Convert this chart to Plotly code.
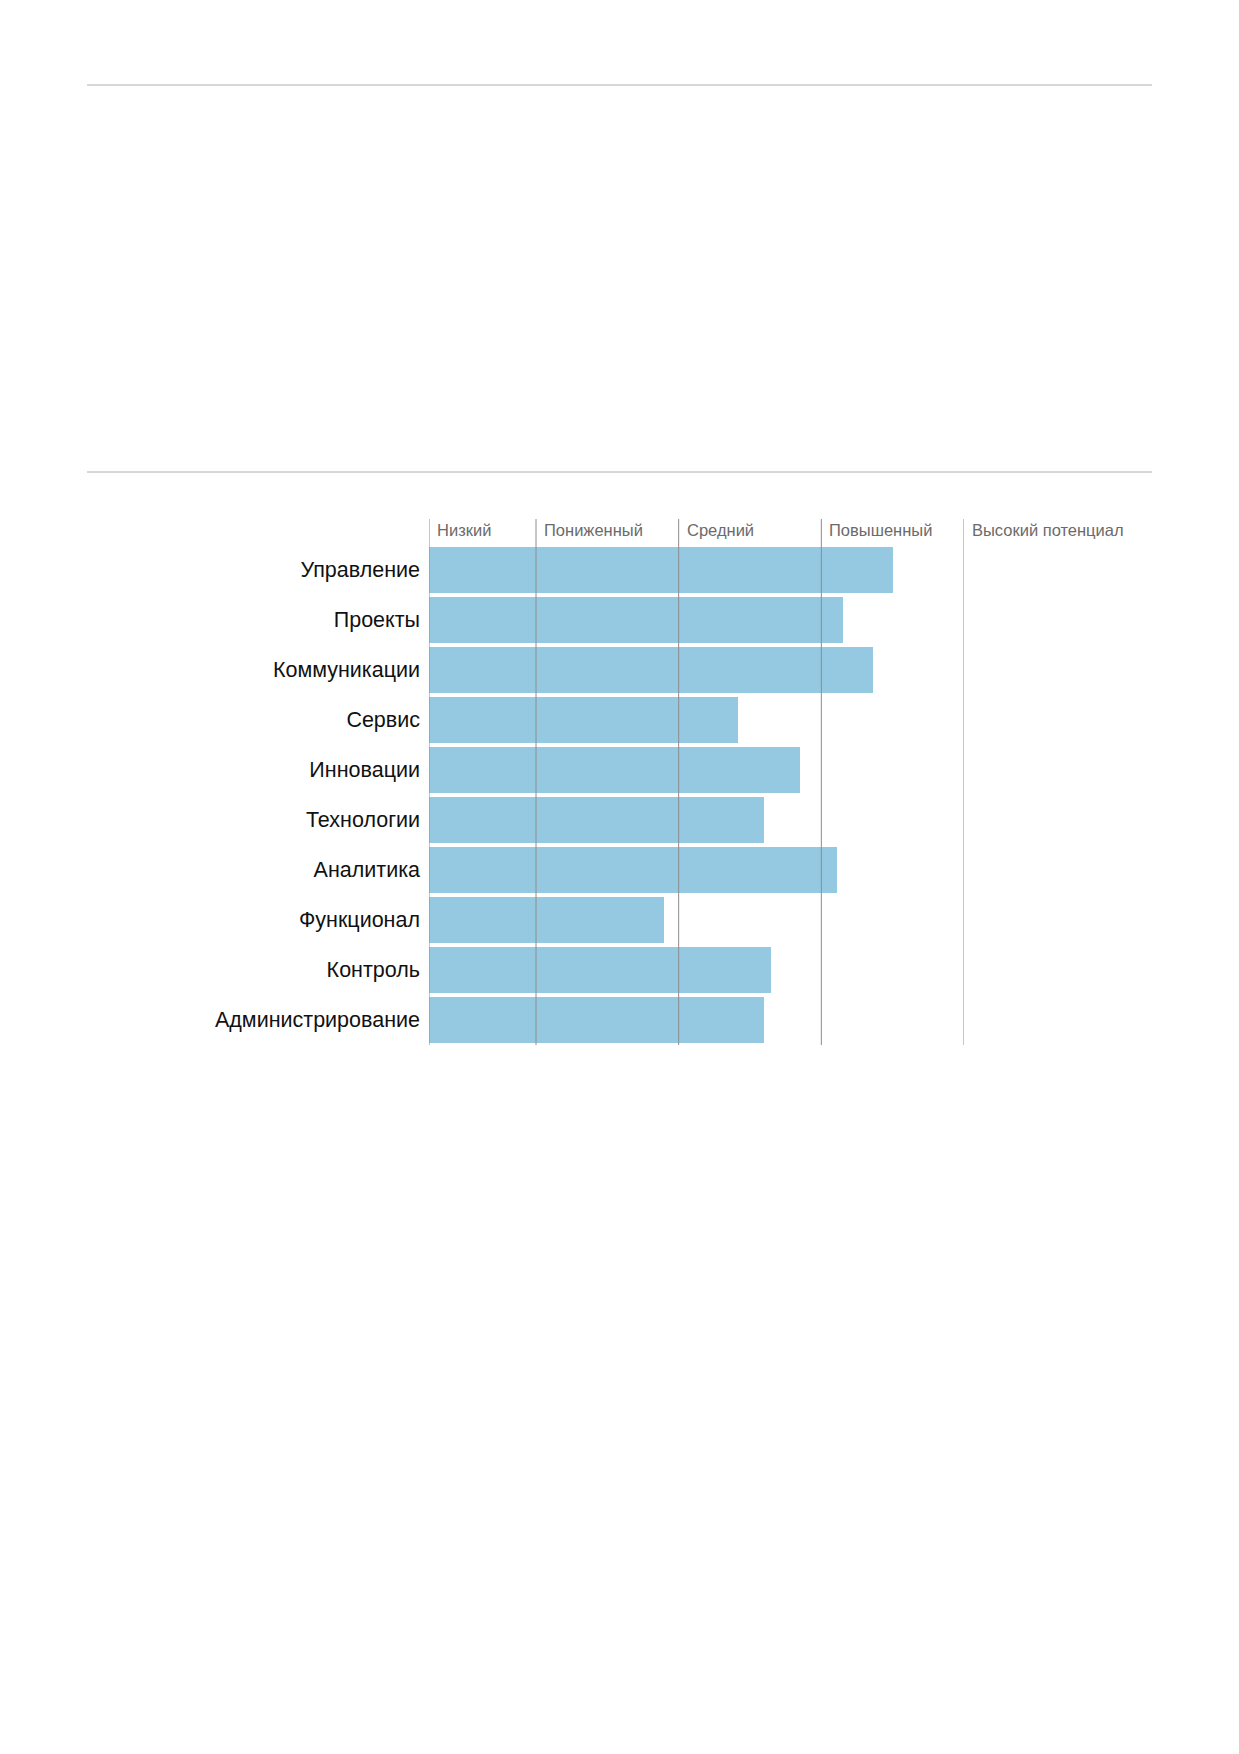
import plotly.graph_objects as go

# the page has an 8px body margin, so the figure is placed 8px in from the corner
PAD = 8
W, H = 1239 - 2 * PAD, 1754 - 2 * PAD

# scale categories and their boundaries (score units)
levels = ["Низкий", "Пониженный", "Средний", "Повышенный", "Высокий потенциал"]
level_edges = [0, 3, 7, 11, 15]

# competence scores
areas = ["Управление", "Проекты", "Коммуникации", "Сервис", "Инновации",
         "Технологии", "Аналитика", "Функционал", "Контроль", "Администрирование"]
scores = [13.0, 11.6, 12.45, 8.65, 10.4, 9.4, 11.45, 6.6, 9.6, 9.4]

BAR = "#95c9e1"
GRID = "#8c8c8c"
RULE = "#b0b0b0"
FONT = "Liberation Sans, Arial, sans-serif"


def px_x(v):
    return (v - PAD) / W


def px_y(v):
    return 1 - (v - PAD) / H


fig = go.Figure()
fig.add_trace(go.Bar(
    x=scores,
    y=list(range(len(areas))),
    orientation="h",
    width=0.92,
    marker=dict(color=BAR, line=dict(width=0)),
    hoverinfo="skip",
    showlegend=False,
))

# vertical level boundaries, drawn above the bars
for e in level_edges:
    fig.add_shape(type="line", xref="x", yref="y", x0=e, x1=e, y0=-1.01, y1=9.51,
                  line=dict(color=GRID, width=1), layer="above")

# level names at the top of each column
for name, e in zip(levels, level_edges):
    fig.add_annotation(x=e, y=-0.79, xref="x", yref="y", text=name, showarrow=False,
                       xanchor="left", yanchor="middle", xshift=6,
                       font=dict(family=FONT, size=16.5, color="#6b6b6b"))

# page rules
for yy in [85, 472]:
    fig.add_shape(type="line", xref="paper", yref="paper",
                  x0=px_x(87), x1=px_x(1152), y0=px_y(yy), y1=px_y(yy),
                  line=dict(color=RULE, width=1))

fig.update_layout(
    width=W, height=H,
    margin=dict(l=0, r=0, t=0, b=0),
    paper_bgcolor="white", plot_bgcolor="white",
    bargap=0,
    font=dict(family=FONT),
    xaxis=dict(domain=[px_x(429), px_x(964)], range=[0, 15], showgrid=False,
               zeroline=False, showticklabels=False, ticks="", fixedrange=True),
    yaxis=dict(domain=[px_y(1045), px_y(519)], range=[9.51, -1.01],
               tickvals=list(range(len(areas))), ticktext=areas,
               showgrid=False, zeroline=False, ticks="", ticklabelstandoff=8,
               tickfont=dict(family=FONT, size=21.5, color="#111111"), fixedrange=True),
)

fig.write_html("out.html")
